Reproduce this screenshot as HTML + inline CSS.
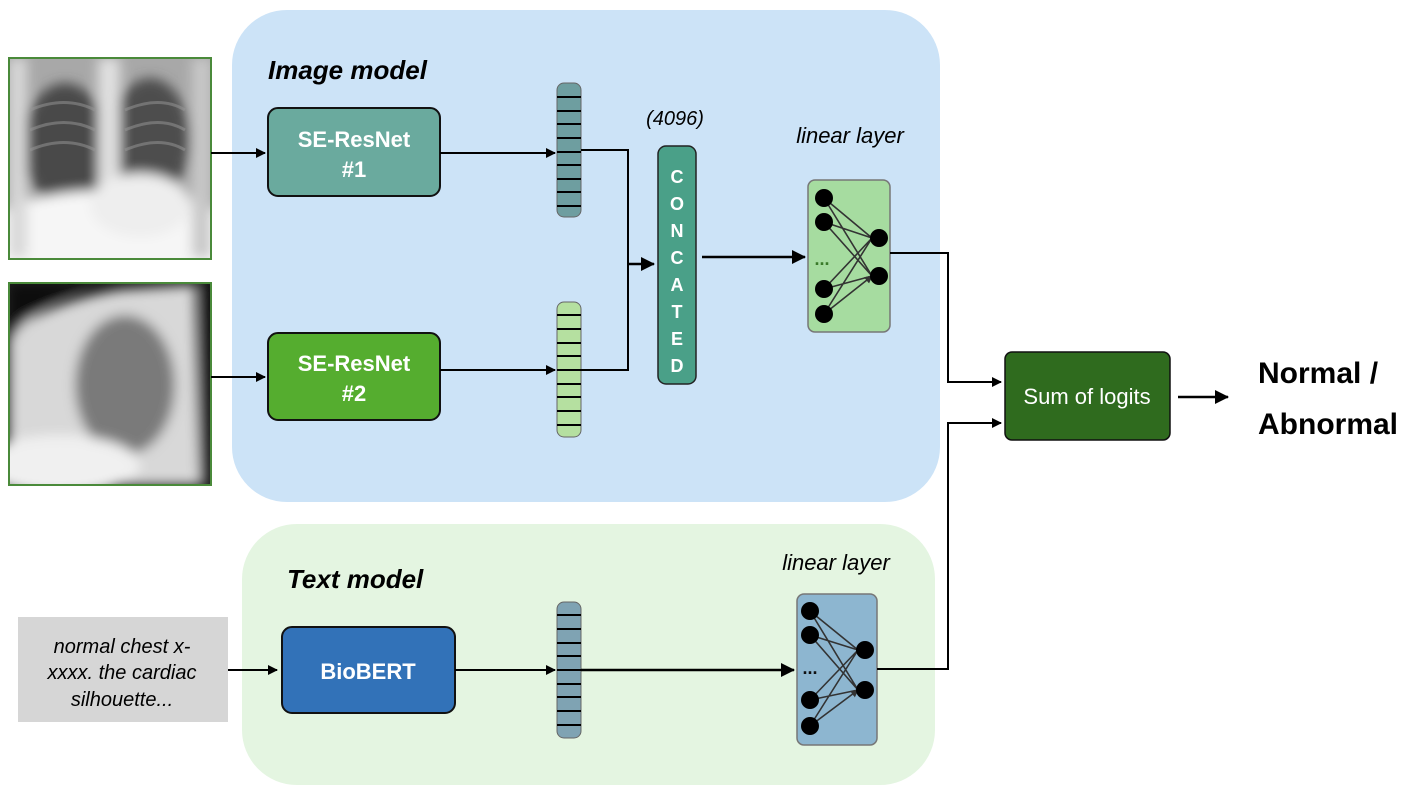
<!DOCTYPE html>
<html><head><meta charset="utf-8"><style>
body{margin:0;background:#fff;width:1417px;height:796px;overflow:hidden}
svg{display:block}
text{font-family:"Liberation Sans",Arial,sans-serif}
</style></head><body>
<svg width="1417" height="796" viewBox="0 0 1417 796" xmlns="http://www.w3.org/2000/svg">
<defs>
<marker id="ah" markerWidth="10" markerHeight="10" refX="9" refY="5" orient="auto" markerUnits="userSpaceOnUse"><path d="M0,0 L10,5 L0,10 z" fill="#000"/></marker>
<marker id="ah2" markerWidth="14" markerHeight="14" refX="13" refY="7" orient="auto" markerUnits="userSpaceOnUse"><path d="M0,0 L14,7 L0,14 z" fill="#000"/></marker>
<marker id="sa" markerWidth="8" markerHeight="8" refX="7" refY="4" orient="auto" markerUnits="userSpaceOnUse"><path d="M0,0 L8,4 L0,8 z" fill="#333"/></marker>
<filter id="bl"><feGaussianBlur stdDeviation="6"/></filter>
<clipPath id="c1"><rect x="9" y="58" width="202" height="201"/></clipPath>
<clipPath id="c2"><rect x="9" y="283" width="202" height="202"/></clipPath>
</defs>

<rect x="232" y="10" width="708" height="492" rx="55" fill="#cce3f7"/>
<rect x="242" y="524" width="693" height="261" rx="55" fill="#e4f5e1"/>

<!-- xray 1 -->
<g clip-path="url(#c1)">
<rect x="9" y="58" width="202" height="201" fill="#a8a8a8"/>
<g filter="url(#bl)">
<ellipse cx="65" cy="145" rx="42" ry="62" fill="#4a4a4a"/>
<ellipse cx="150" cy="140" rx="40" ry="62" fill="#4e4e4e"/>
<rect x="98" y="58" width="22" height="200" fill="#e0e0e0"/>
<ellipse cx="110" cy="245" rx="140" ry="55" fill="#f6f6f6"/>
<ellipse cx="140" cy="205" rx="50" ry="32" fill="#eee"/>
<rect x="9" y="58" width="18" height="200" fill="#d8d8d8"/>
<rect x="192" y="58" width="19" height="200" fill="#c8c8c8"/>
</g>
<g stroke="#999" stroke-width="3" opacity=".5" fill="none">
<path d="M30,110 q35,-15 65,0 M30,130 q35,-15 65,0 M30,150 q35,-15 65,0"/>
<path d="M125,110 q35,-15 60,0 M125,130 q35,-15 60,0 M125,150 q35,-15 60,0"/>
</g>
</g>
<rect x="9" y="58" width="202" height="201" fill="none" stroke="#4a8a3a" stroke-width="2"/>

<!-- xray 2 -->
<g clip-path="url(#c2)">
<rect x="9" y="283" width="202" height="202" fill="#1a1a1a"/>
<g filter="url(#bl)">
<path d="M9,330 Q60,300 120,290 L195,285 L200,485 L9,485 Z" fill="#d8d8d8"/>
<ellipse cx="125" cy="385" rx="50" ry="70" fill="#7a7a7a"/>
<ellipse cx="60" cy="465" rx="80" ry="30" fill="#f0f0f0"/>
<path d="M9,283 H90 Q40,300 9,340 Z" fill="#0e0e0e"/>
<rect x="200" y="283" width="11" height="202" fill="#111"/>
</g>
</g>
<rect x="9" y="283" width="202" height="202" fill="none" stroke="#4a8a3a" stroke-width="2"/>

<text x="268" y="79" font-size="26" font-weight="bold" font-style="italic">Image model</text>
<text x="287" y="588" font-size="26" font-weight="bold" font-style="italic">Text model</text>
<text x="675" y="125" font-size="20" font-style="italic" text-anchor="middle">(4096)</text>
<text x="850" y="143" font-size="22" font-style="italic" text-anchor="middle">linear layer</text>
<text x="836" y="570" font-size="22" font-style="italic" text-anchor="middle">linear layer</text>

<rect x="268" y="108" width="172" height="88" rx="10" fill="#6aaa9e" stroke="#111" stroke-width="2"/>
<text x="354" y="147" font-size="22" fill="#fff" font-weight="bold" text-anchor="middle">SE-ResNet</text>
<text x="354" y="177" font-size="22" fill="#fff" font-weight="bold" text-anchor="middle">#1</text>
<rect x="268" y="333" width="172" height="87" rx="10" fill="#55ad2f" stroke="#111" stroke-width="2"/>
<text x="354" y="371" font-size="22" fill="#fff" font-weight="bold" text-anchor="middle">SE-ResNet</text>
<text x="354" y="401" font-size="22" fill="#fff" font-weight="bold" text-anchor="middle">#2</text>
<rect x="282" y="627" width="173" height="86" rx="10" fill="#3272b8" stroke="#111" stroke-width="2"/>
<text x="368" y="679" font-size="22" fill="#fff" font-weight="bold" text-anchor="middle">BioBERT</text>
<rect x="1005" y="352" width="165" height="88" rx="7" fill="#2f6b1e" stroke="#111" stroke-width="1.5"/>
<text x="1087" y="404" font-size="22" fill="#fff" text-anchor="middle">Sum of logits</text>

<rect x="18" y="617" width="210" height="105" fill="#d6d6d6"/>
<text font-size="20" font-style="italic" text-anchor="middle"><tspan x="122" y="653">normal chest x-</tspan><tspan x="122" y="679">xxxx. the cardiac</tspan><tspan x="122" y="706">silhouette...</tspan></text>

<text x="1258" y="383" font-size="30" font-weight="bold">Normal /</text>
<text x="1258" y="434" font-size="30" font-weight="bold">Abnormal</text>

<g stroke="#000" stroke-width="2">
<rect x="557" y="83" width="24" height="134" rx="7" fill="#6e9ea0" stroke="#666" stroke-width="1"/>
<path d="M557,97h24M557,111h24M557,124h24M557,138h24M557,152h24M557,165h24M557,179h24M557,192h24M557,206h24"/>
<rect x="557" y="302" width="24" height="135" rx="7" fill="#b5e0a0" stroke="#666" stroke-width="1"/>
<path d="M557,315h24M557,329h24M557,343h24M557,356h24M557,370h24M557,384h24M557,397h24M557,411h24M557,425h24"/>
<rect x="557" y="602" width="24" height="136" rx="7" fill="#7fa3b3" stroke="#666" stroke-width="1"/>
<path d="M557,615h24M557,629h24M557,643h24M557,656h24M557,670h24M557,684h24M557,697h24M557,711h24M557,725h24"/>
</g>

<rect x="658" y="146" width="38" height="238" rx="8" fill="#4aa088" stroke="#222" stroke-width="1.5"/>
<g font-size="18" fill="#fff" font-weight="bold" text-anchor="middle">
<text x="677" y="183">C</text><text x="677" y="210">O</text><text x="677" y="237">N</text><text x="677" y="264">C</text><text x="677" y="291">A</text><text x="677" y="318">T</text><text x="677" y="345">E</text><text x="677" y="372">D</text>
</g>

<rect x="808" y="180" width="82" height="152" rx="7" fill="#a6dca0" stroke="#777" stroke-width="1.5"/>
<g stroke="#333" stroke-width="1.6" marker-end="url(#sa)">
<path d="M824,198L872,238M824,198L872,276M824,222L872,238M824,222L872,276M824,289L872,238M824,289L872,276M824,314L872,238M824,314L872,276"/>
</g>
<g fill="#000"><circle cx="824" cy="198" r="9"/><circle cx="824" cy="222" r="9"/><circle cx="824" cy="289" r="9"/><circle cx="824" cy="314" r="9"/><circle cx="879" cy="238" r="9"/><circle cx="879" cy="276" r="9"/></g>
<text x="822" y="265" font-size="18" fill="#3a7a2a" font-weight="bold" text-anchor="middle">...</text>

<rect x="797" y="594" width="80" height="151" rx="7" fill="#8db6d0" stroke="#777" stroke-width="1.5"/>
<g stroke="#333" stroke-width="1.6" marker-end="url(#sa)">
<path d="M810,611L858,650M810,611L858,690M810,635L858,650M810,635L858,690M810,700L858,650M810,700L858,690M810,726L858,650M810,726L858,690"/>
</g>
<g fill="#000"><circle cx="810" cy="611" r="9"/><circle cx="810" cy="635" r="9"/><circle cx="810" cy="700" r="9"/><circle cx="810" cy="726" r="9"/><circle cx="865" cy="650" r="9"/><circle cx="865" cy="690" r="9"/></g>
<text x="810" y="674" font-size="18" fill="#111" font-weight="bold" text-anchor="middle">...</text>

<g stroke="#000" stroke-width="2" fill="none">
<path d="M211,153H265" marker-end="url(#ah)"/>
<path d="M211,377H265" marker-end="url(#ah)"/>
<path d="M440,153H555" marker-end="url(#ah)"/>
<path d="M440,370H555" marker-end="url(#ah)"/>
<path d="M581,150H628V370H581"/>
<path d="M628,264H654" marker-end="url(#ah2)" stroke-width="2.5"/>
<path d="M702,257H805" marker-end="url(#ah2)" stroke-width="2.5"/>
<path d="M890,253H948V382H1001" marker-end="url(#ah)"/>
<path d="M877,669H948V423H1001" marker-end="url(#ah)"/>
<path d="M1178,397H1228" marker-end="url(#ah2)" stroke-width="2.5"/>
<path d="M228,670H277" marker-end="url(#ah)"/>
<path d="M455,670H555" marker-end="url(#ah)"/>
<path d="M581,670H794" marker-end="url(#ah2)" stroke-width="2.5"/>
</g>
</svg>
</body></html>
